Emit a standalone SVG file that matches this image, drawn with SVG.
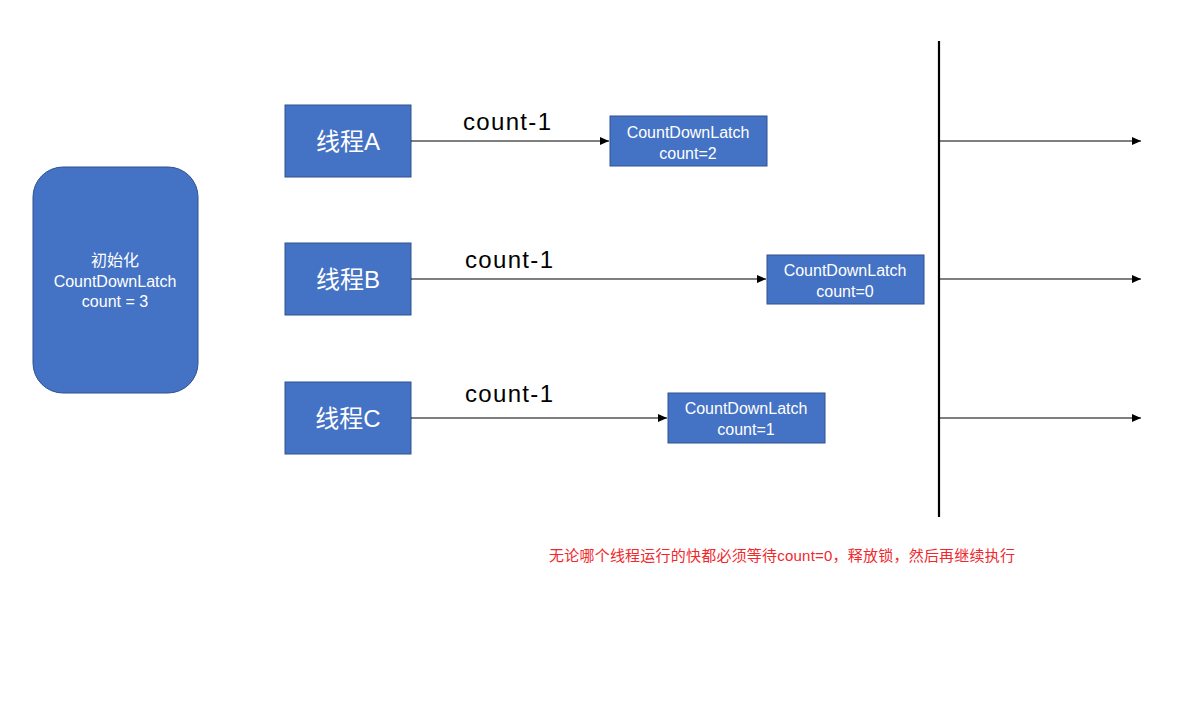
<svg xmlns="http://www.w3.org/2000/svg" width="1182" height="701" viewBox="0 0 1182 701">
<defs>
<marker id="arr" markerWidth="10" markerHeight="8" refX="9" refY="4" orient="auto" markerUnits="userSpaceOnUse">
<path d="M0,0 L9,4 L0,8 Z" fill="#000"/>
</marker>
<style>
.box{fill:#4472C4;stroke:#2F528F;stroke-width:1}
.t{font-family:"Liberation Sans","Noto Sans CJK SC",sans-serif;fill:#fff;text-anchor:middle}
.big{font-size:24px}
.sm{font-size:16px}
.lbl{font-family:"Liberation Sans","Noto Sans CJK SC",sans-serif;font-size:24px;fill:#000}
.ln{stroke:#000;stroke-width:1.2;fill:none}
</style>
</defs>
<rect width="1182" height="701" fill="#fff"/>
<g id="init">
<rect class="box" x="33" y="167" width="165" height="226" rx="30"/>
<text class="t sm" x="115" y="266">初始化</text>
<text class="t sm" x="115" y="287">CountDownLatch</text>
<text class="t sm" x="115" y="307">count = 3</text>
</g>
<g id="threadA">
<rect class="box" x="285" y="105" width="126" height="72"/>
<text class="t big" x="348" y="150">线程A</text>
</g>
<g id="threadB">
<rect class="box" x="285" y="243" width="126" height="72"/>
<text class="t big" x="348" y="288">线程B</text>
</g>
<g id="threadC">
<rect class="box" x="285" y="382" width="126" height="72"/>
<text class="t big" x="348" y="427">线程C</text>
</g>
<g id="latchA">
<rect class="box" x="610" y="116" width="157" height="50"/>
<text class="t sm" x="688" y="138">CountDownLatch</text>
<text class="t sm" x="688" y="159">count=2</text>
</g>
<g id="latchB">
<rect class="box" x="767" y="255" width="157" height="49"/>
<text class="t sm" x="845" y="276">CountDownLatch</text>
<text class="t sm" x="845" y="297">count=0</text>
</g>
<g id="latchC">
<rect class="box" x="668" y="393" width="157" height="50"/>
<text class="t sm" x="746" y="414">CountDownLatch</text>
<text class="t sm" x="746" y="435">count=1</text>
</g>
<g id="connectors">
<line class="ln" x1="411" y1="141" x2="609" y2="141" marker-end="url(#arr)"/>
<line class="ln" x1="411" y1="279" x2="766" y2="279" marker-end="url(#arr)"/>
<line class="ln" x1="411" y1="418" x2="667" y2="418" marker-end="url(#arr)"/>
<line x1="939" y1="41" x2="939" y2="517" stroke="#000" stroke-width="2.2"/>
<line class="ln" x1="939" y1="141" x2="1141" y2="141" marker-end="url(#arr)"/>
<line class="ln" x1="939" y1="279" x2="1141" y2="279" marker-end="url(#arr)"/>
<line class="ln" x1="939" y1="418" x2="1141" y2="418" marker-end="url(#arr)"/>
<text class="lbl" x="463" y="130" textLength="88">count-1</text>
<text class="lbl" x="465" y="268" textLength="88">count-1</text>
<text class="lbl" x="465" y="402" textLength="88">count-1</text>
</g>
<text x="782" y="561" font-family="Liberation Sans,Noto Sans CJK SC,sans-serif" font-size="15" fill="#F0282D" text-anchor="middle" textLength="466">无论哪个线程运行的快都必须等待count=0，释放锁，然后再继续执行</text>
</svg>
